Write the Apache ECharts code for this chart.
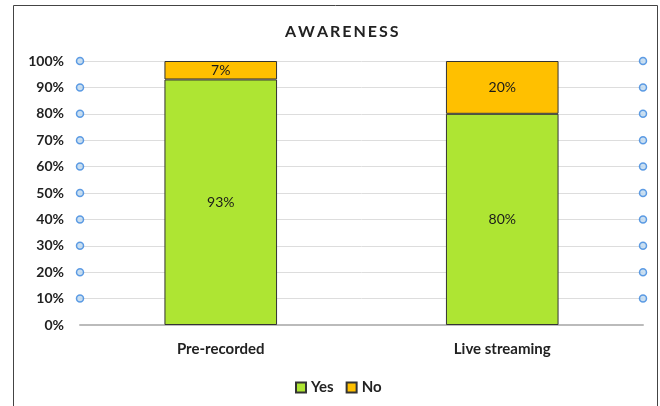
<!DOCTYPE html>
<html><head><meta charset="utf-8">
<script src="https://cdn.jsdelivr.net/npm/echarts@6/dist/echarts.min.js"></script>
<style>html,body{margin:0;padding:0;background:#fff}#c{width:660px;height:406px}</style>
</head><body><div id="c"></div>
<script>
const categories = ['Pre-recorded', 'Live streaming'];
const yesValues = [93, 80];
const noValues = [7, 20];
const markerLevels = [10, 20, 30, 40, 50, 60, 70, 80, 90, 100];
const markerSides = [0, 1];

const markerData = [];
markerSides.forEach(s => markerLevels.forEach(v => markerData.push([s, v])));

const font = 'Lato, "Open Sans", sans-serif';
const chart = echarts.init(document.getElementById('c'));
chart.setOption({
  animation: false,
  graphic: [{type:'rect', shape:{x:13.5, y:5.5, width:644, height:420}, style:{fill:'none', stroke:'#444', lineWidth:1}, silent:true}],
  title: {text:'A\u2009W\u2009A\u2009R\u2009E\u2009N\u2009E\u2009S\u2009S', left:280, top:19,
    textStyle:{fontFamily:font, fontSize:16, fontWeight:'bold', color:'#222'}},
  legend: {data:['Yes','No'], left:290, top:375, itemWidth:10, itemHeight:10, itemGap:12,
    textStyle:{fontFamily:font, fontSize:15, fontWeight:'bold', color:'#222'},
    icon:'rect'},
  grid: {left:80, right:17, top:61, bottom:81},
  xAxis: [
    {type:'category', data:categories, axisTick:{show:false},
     axisLine:{lineStyle:{color:'#bbb', width:2}},
     axisLabel:{fontFamily:font, fontSize:15, fontWeight:'bold', color:'#222', margin:17}},
    {type:'value', min:0, max:1, show:false}
  ],
  yAxis: {type:'value', min:0, max:100, interval:10,
    axisLabel:{formatter:'{value}%', fontFamily:font, fontSize:14, fontWeight:'bold', color:'#222', margin:16},
    splitLine:{lineStyle:{color:'#ddd', width:1}}, axisLine:{show:false}, axisTick:{show:false}},
  series: [
    {name:'Yes', type:'bar', stack:'a', data:yesValues, barWidth:'40%',
     itemStyle:{color:'#AEE533', borderColor:'#333', borderWidth:1},
     label:{show:true, position:'inside', formatter:'{c}%', fontFamily:font, fontSize:14, color:'#1a1a1a'}},
    {name:'No', type:'bar', stack:'a', data:noValues, barWidth:'40%',
     itemStyle:{color:'#FFC000', borderColor:'#333', borderWidth:1},
     label:{show:true, position:'inside', formatter:'{c}%', fontFamily:font, fontSize:14, color:'#1a1a1a'}},
    {name:'markers', type:'scatter', xAxisIndex:1, data:markerData, symbolSize:7,
     itemStyle:{color:'#BDD7EE', borderColor:'#3A86DE', borderWidth:1.5}, silent:true, z:5}
  ]
});
</script></body></html>
